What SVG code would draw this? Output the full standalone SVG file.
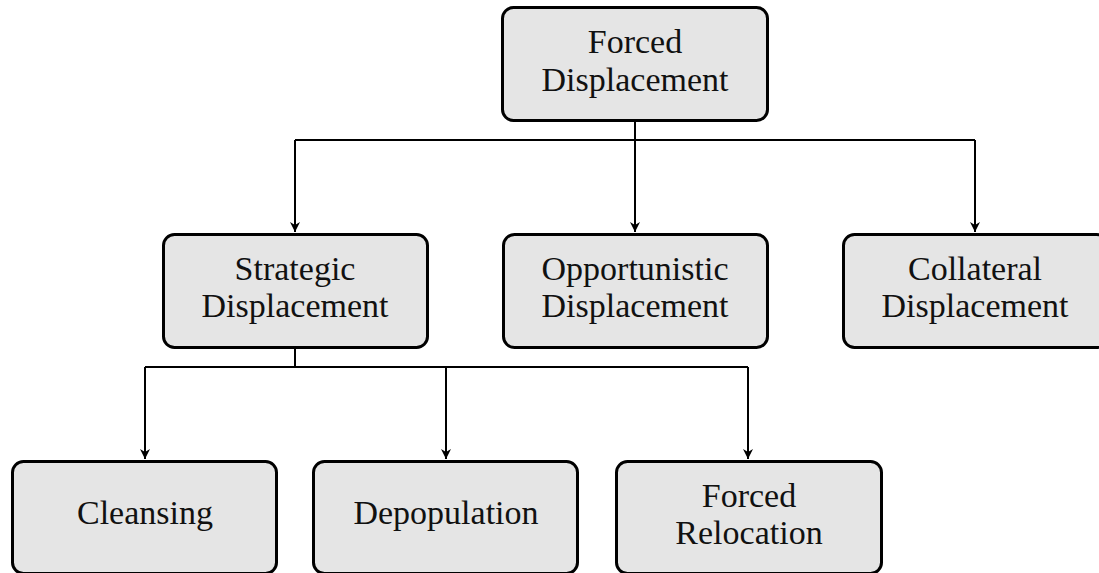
<svg xmlns="http://www.w3.org/2000/svg" width="1099" height="573" viewBox="0 0 1099 573">
<style>
.box{fill:#e5e5e5;stroke:#000;stroke-width:3}
.lbl{font-family:"Liberation Serif","Times New Roman",serif;font-size:34px;fill:#111;text-anchor:middle}
.con{fill:none;stroke:#000;stroke-width:2}
</style>
<defs>
<marker id="arr" viewBox="0 0 10 10" refX="10" refY="5" markerWidth="10" markerHeight="10" markerUnits="userSpaceOnUse" orient="auto">
<path d="M0,0 L10,5 L0,10 L3,5 Z" fill="#000"/>
</marker>
</defs>
<rect width="1099" height="573" fill="#fff"/>
<g id="connectors">
<path class="con" d="M635,121 V140"/>
<path class="con" d="M295,140 H975"/>
<path class="con" d="M295,140 V232" marker-end="url(#arr)"/>
<path class="con" d="M635,140 V232" marker-end="url(#arr)"/>
<path class="con" d="M975,140 V232" marker-end="url(#arr)"/>
<path class="con" d="M295,347 V367"/>
<path class="con" d="M145,367 H748"/>
<path class="con" d="M145,367 V459" marker-end="url(#arr)"/>
<path class="con" d="M446,367 V459" marker-end="url(#arr)"/>
<path class="con" d="M748,367 V459" marker-end="url(#arr)"/>
</g>
<g id="forced-displacement">
<rect class="box" x="502.5" y="7.5" width="265" height="113" rx="11"/>
<text class="lbl" x="635" y="53">Forced</text>
<text class="lbl" x="635" y="91">Displacement</text>
</g>
<g id="strategic-displacement">
<rect class="box" x="163.5" y="234.5" width="264" height="113" rx="11"/>
<text class="lbl" x="295" y="280">Strategic</text>
<text class="lbl" x="295" y="317">Displacement</text>
</g>
<g id="opportunistic-displacement">
<rect class="box" x="503.5" y="234.5" width="264" height="113" rx="11"/>
<text class="lbl" x="635" y="280">Opportunistic</text>
<text class="lbl" x="635" y="317">Displacement</text>
</g>
<g id="collateral-displacement">
<rect class="box" x="843.5" y="234.5" width="264" height="113" rx="11"/>
<text class="lbl" x="975" y="280">Collateral</text>
<text class="lbl" x="975" y="317">Displacement</text>
</g>
<g id="cleansing">
<rect class="box" x="12.5" y="461.5" width="264" height="112" rx="11"/>
<text class="lbl" x="145" y="524">Cleansing</text>
</g>
<g id="depopulation">
<rect class="box" x="313.5" y="461.5" width="264" height="112" rx="11"/>
<text class="lbl" x="446" y="524">Depopulation</text>
</g>
<g id="forced-relocation">
<rect class="box" x="616.5" y="461.5" width="265" height="112" rx="11"/>
<text class="lbl" x="749" y="507">Forced</text>
<text class="lbl" x="749" y="544">Relocation</text>
</g>
</svg>
